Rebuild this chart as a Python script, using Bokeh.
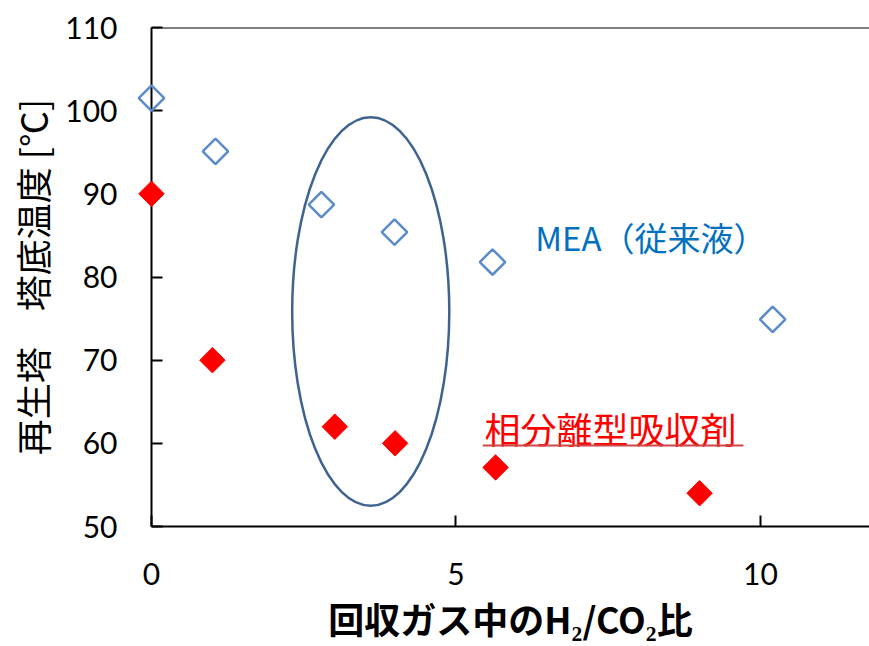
import math
from bokeh.plotting import figure
from bokeh.models import Range1d, Span, Label, Arrow
from bokeh.embed import file_html
from bokeh.resources import INLINE

# ---- data ----
mea_x = [0.0, 1.05, 2.79, 3.99, 5.60, 10.20]
mea_y = [101.5, 95.1, 88.7, 85.4, 81.8, 74.9]
psa_x = [0.0, 1.0, 3.01, 4.0, 5.65, 9.0]
psa_y = [90.0, 70.0, 62.0, 60.0, 57.1, 54.0]

x_ticks = [0, 5, 10]
y_ticks = [50, 60, 70, 80, 90, 100, 110]

x_title = "回収ガス中のH₂/CO₂比"
y_title = "再生塔　塔底温度 [℃]"
mea_label = "MEA（従来液）"
psa_label = "相分離型吸収剤"

# highlighted group (ellipse), in data units
ell_x = [3.60]
ell_y = [75.85]
ell_w = [2.58]
ell_h = [46.7]

# annotation anchors (data units)
mea_label_pos = (6.30, 84.8)
psa_label_pos = (5.47, 61.8)
psa_underline = (5.44, 9.72, 59.75)

CJK = "Noto Sans CJK JP"

p = figure(width=869, height=646, output_backend="svg", toolbar_location=None,
           x_range=Range1d(0, 11.79), y_range=Range1d(50, 110))
p.min_border_left = 151
p.min_border_right = 0
p.min_border_top = 27
p.min_border_bottom = 119
p.outline_line_color = None
p.grid.visible = False
p.background_fill_color = "white"
p.border_fill_color = "white"

# axes
for ax in (p.xaxis[0], p.yaxis[0]):
    ax.axis_line_color = "black"
    ax.axis_line_width = 2
    ax.major_tick_line_color = "black"
    ax.major_tick_line_width = 2
    ax.major_tick_in = 11
    ax.major_tick_out = 0
    ax.minor_tick_line_color = None
    ax.major_label_text_font = "Lato"
    ax.major_label_text_font_size = "30px"
    ax.major_label_text_color = "black"
    ax.axis_label_text_font = CJK
    ax.axis_label_text_font_size = "36px"
    ax.axis_label_text_color = "black"

p.xaxis.axis_label_text_font_style = "bold"
p.yaxis.axis_label_text_font_style = "normal"
p.xaxis.ticker = x_ticks
p.yaxis.ticker = y_ticks
p.xaxis.major_label_standoff = 36
p.yaxis.major_label_standoff = 34
p.xaxis.axis_label = x_title
p.yaxis.axis_label = y_title
p.xaxis.axis_label_standoff = 4
p.yaxis.axis_label_standoff = 4

# top border of the plot box
p.add_layout(Span(location=110, dimension="width", line_color="black", line_width=2))

# ellipse around the middle group
p.ellipse(x=ell_x, y=ell_y, width=ell_w, height=ell_h,
          fill_color=None, line_color="#3F6391", line_width=2.5)

# series
p.scatter(mea_x, mea_y, marker="square", angle=math.pi / 4, size=18,
          fill_color=None, line_color="#5B8BC9", line_width=2.5, level="overlay")
p.scatter(psa_x, psa_y, marker="square", angle=math.pi / 4, size=18,
          fill_color="#FF0000", line_color="#FF0000", line_width=1, level="overlay")

# text annotations
p.add_layout(Label(x=mea_label_pos[0], y=mea_label_pos[1], text=mea_label,
                   text_font=CJK, text_font_size="33px", text_color="#0070C0",
                   text_baseline="middle", text_align="left"))
p.add_layout(Label(x=psa_label_pos[0], y=psa_label_pos[1], text=psa_label,
                   text_font=CJK, text_font_size="36px", text_color="#FF0000",
                   text_baseline="middle", text_align="left"))
p.add_layout(Arrow(x_start=psa_underline[0], x_end=psa_underline[1],
                   y_start=psa_underline[2], y_end=psa_underline[2],
                   end=None, line_color="#D04545", line_width=2))

open("out.html", "w").write(file_html(p, INLINE))
